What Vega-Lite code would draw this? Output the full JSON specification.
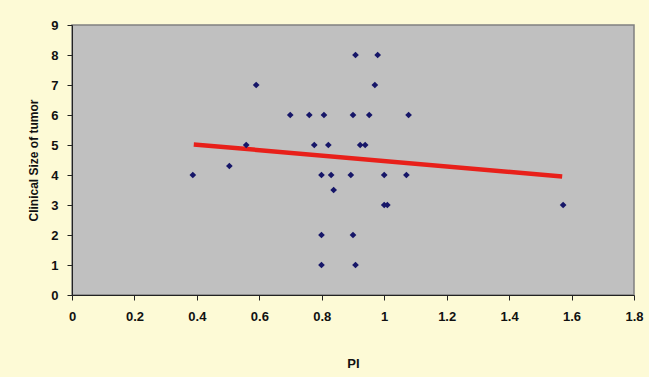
{
  "$schema": "https://vega.github.io/schema/vega-lite/v6.json",
  "width": 562,
  "height": 270,
  "autosize": "none",
  "padding": {"left": 72, "top": 25, "right": 15, "bottom": 82},
  "background": "#FDFAD6",
  "config": {
    "view": {"fill": "#C0C0C0", "stroke": "#808080", "strokeWidth": 1.5},
    "axis": {
      "labelFont": "Liberation Sans", "labelFontWeight": "bold", "labelFontSize": 13, "labelColor": "#111111",
      "titleFont": "Liberation Sans", "titleFontWeight": "bold", "titleFontSize": 12, "titleColor": "#111111",
      "domainColor": "#222222", "tickColor": "#222222", "grid": false, "tickSize": 5,
      "labelOverlap": false, "labelFlush": false, "labelBound": false
    }
  },
  "datasets": {
    "pts": [
      {"PI": 0.387, "size": 4}, {"PI": 0.504, "size": 4.3}, {"PI": 0.558, "size": 5}, {"PI": 0.59, "size": 7},
      {"PI": 0.699, "size": 6}, {"PI": 0.76, "size": 6}, {"PI": 0.776, "size": 5}, {"PI": 0.807, "size": 6},
      {"PI": 0.821, "size": 5}, {"PI": 0.799, "size": 4}, {"PI": 0.83, "size": 4}, {"PI": 0.838, "size": 3.5},
      {"PI": 0.799, "size": 2}, {"PI": 0.799, "size": 1}, {"PI": 0.893, "size": 4}, {"PI": 0.9, "size": 6},
      {"PI": 0.908, "size": 8}, {"PI": 0.9, "size": 2}, {"PI": 0.908, "size": 1}, {"PI": 0.923, "size": 5},
      {"PI": 0.939, "size": 5}, {"PI": 0.952, "size": 6}, {"PI": 0.97, "size": 7}, {"PI": 0.979, "size": 8},
      {"PI": 1.0, "size": 4}, {"PI": 1.0, "size": 3}, {"PI": 1.01, "size": 3}, {"PI": 1.071, "size": 4},
      {"PI": 1.078, "size": 6}, {"PI": 1.573, "size": 3}
    ],
    "trend": [{"PI": 0.39, "size": 5.02}, {"PI": 1.57, "size": 3.95}]
  },
  "encoding": {
    "x": {"field": "PI", "type": "quantitative", "scale": {"domain": [0, 1.8], "nice": false},
      "axis": {"title": "PI", "values": [0, 0.2, 0.4, 0.6, 0.8, 1, 1.2, 1.4, 1.6, 1.8], "format": ".1~f", "labelPadding": 10, "titlePadding": 34, "titleFontSize": 13}},
    "y": {"field": "size", "type": "quantitative", "scale": {"domain": [0, 9], "nice": false},
      "axis": {"title": "Clinical Size of tumor", "values": [0, 1, 2, 3, 4, 5, 6, 7, 8, 9], "tickCount": 10, "labelPadding": 9, "titlePadding": 10}}
  },
  "layer": [
    {
      "data": {"name": "trend"},
      "mark": {"type": "line", "color": "#E8201A", "strokeWidth": 4.5}
    },
    {
      "data": {"name": "pts"},
      "mark": {"type": "point", "shape": "diamond", "filled": true, "size": 45, "color": "#161668", "opacity": 1}
    }
  ]
}
